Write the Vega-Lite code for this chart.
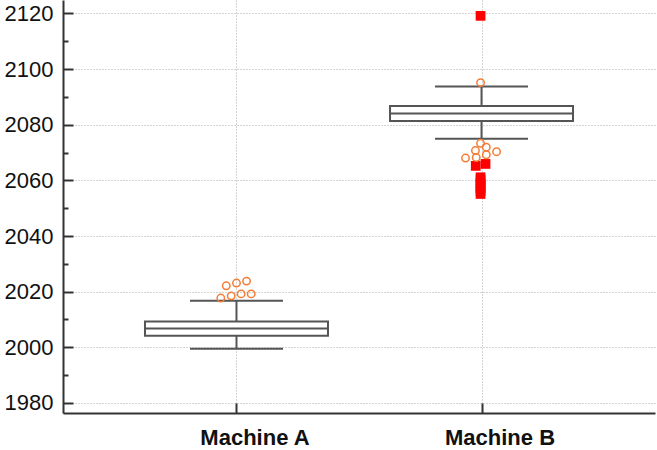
{
  "$schema": "https://vega.github.io/schema/vega-lite/v6.json",
  "width": 592,
  "height": 413,
  "autosize": {"type": "none"},
  "padding": {"left": 63, "top": 0, "right": 2, "bottom": 37},
  "background": "white",
  "config": {"view": {"stroke": null}, "font": "Liberation Sans"},
  "datasets": {
    "boxes": [
      {"machine": "Machine A", "lower": 1999.5, "q1": 2004.2, "median": 2006.8, "q3": 2009.3, "upper": 2016.7},
      {"machine": "Machine B", "lower": 2074.9, "q1": 2081.3, "median": 2084.0, "q3": 2086.7, "upper": 2093.7}
    ],
    "outliers": [
      {"machine": "Machine A", "value": 2022.1, "jitter": -0.64, "kind": "circle"},
      {"machine": "Machine A", "value": 2023.1, "jitter": 0.0, "kind": "circle"},
      {"machine": "Machine A", "value": 2023.8, "jitter": 0.63, "kind": "circle"},
      {"machine": "Machine A", "value": 2017.7, "jitter": -0.98, "kind": "circle"},
      {"machine": "Machine A", "value": 2018.5, "jitter": -0.33, "kind": "circle"},
      {"machine": "Machine A", "value": 2019.2, "jitter": 0.29, "kind": "circle"},
      {"machine": "Machine A", "value": 2019.2, "jitter": 0.92, "kind": "circle"},
      {"machine": "Machine B", "value": 2095.1, "jitter": -0.06, "kind": "circle"},
      {"machine": "Machine B", "value": 2073.3, "jitter": -0.06, "kind": "circle"},
      {"machine": "Machine B", "value": 2070.7, "jitter": -0.38, "kind": "circle"},
      {"machine": "Machine B", "value": 2071.9, "jitter": 0.3, "kind": "circle"},
      {"machine": "Machine B", "value": 2070.3, "jitter": 0.94, "kind": "circle"},
      {"machine": "Machine B", "value": 2068.0, "jitter": -1.0, "kind": "circle"},
      {"machine": "Machine B", "value": 2068.2, "jitter": -0.33, "kind": "circle"},
      {"machine": "Machine B", "value": 2069.2, "jitter": 0.3, "kind": "circle"},
      {"machine": "Machine B", "value": 2065.2, "jitter": -0.36, "kind": "square"},
      {"machine": "Machine B", "value": 2065.9, "jitter": 0.25, "kind": "square"},
      {"machine": "Machine B", "value": 2061.1, "jitter": -0.06, "kind": "square"},
      {"machine": "Machine B", "value": 2060.1, "jitter": -0.06, "kind": "square"},
      {"machine": "Machine B", "value": 2059.0, "jitter": -0.06, "kind": "square"},
      {"machine": "Machine B", "value": 2058.1, "jitter": -0.06, "kind": "square"},
      {"machine": "Machine B", "value": 2057.1, "jitter": -0.06, "kind": "square"},
      {"machine": "Machine B", "value": 2056.1, "jitter": -0.06, "kind": "square"},
      {"machine": "Machine B", "value": 2055.1, "jitter": -0.06, "kind": "square"},
      {"machine": "Machine B", "value": 2119.1, "jitter": -0.06, "kind": "square"}
    ]
  },
  "resolve": {"axis": {"y": "independent"}},
  "layer": [
    {
      "data": {"name": "boxes"},
      "mark": {"type": "rule", "color": "#555555", "strokeWidth": 2},
      "encoding": {
        "x": {"field": "machine", "type": "nominal", "scale": {"type": "point", "padding": 0.708, "domain": ["Machine A", "Machine B"]},
          "axis": {"title": null, "labelAngle": 0, "labelFontSize": 22, "labelFontWeight": "bold", "labelColor": "#111111", "labelOffset": 18,
            "grid": true, "gridColor": "#aaaaaa", "gridDash": [1, 2], "gridWidth": 1,
            "domainColor": "#333333", "domainWidth": 2, "tickColor": "#333333", "tickWidth": 2, "tickSize": -10, "labelPadding": 24}},
        "y": {"field": "q3", "type": "quantitative", "scale": {"domain": [1976.4, 2124.8], "nice": false, "zero": false},
          "axis": {"orient": "left", "title": null, "format": "d", "values": [1980, 2000, 2020, 2040, 2060, 2080, 2100, 2120], "labelFontSize": 22, "labelColor": "#111111",
            "grid": true, "gridColor": "#aaaaaa", "gridDash": [1, 2], "gridWidth": 1,
            "domainColor": "#333333", "domainWidth": 2, "tickColor": "#333333", "tickWidth": 2, "tickSize": -10, "labelPadding": 20}},
        "y2": {"field": "upper"}
      }
    },
    {
      "data": {"name": "boxes"},
      "mark": {"type": "rule", "color": "#555555", "strokeWidth": 2},
      "encoding": {
        "x": {"field": "machine", "type": "nominal"},
        "y": {"field": "lower", "type": "quantitative",
          "axis": {"orient": "left", "title": null, "values": [1990, 2010, 2030, 2050, 2070, 2090, 2110], "labels": false, "grid": false, "domain": false,
            "tickColor": "#333333", "tickWidth": 2, "tickSize": -5}},
        "y2": {"field": "q1"}
      }
    },
    {
      "data": {"name": "boxes"},
      "mark": {"type": "bar", "size": 183, "fill": "white", "stroke": "#555555", "strokeWidth": 2},
      "encoding": {
        "x": {"field": "machine", "type": "nominal"},
        "y": {"field": "q1", "type": "quantitative", "axis": null},
        "y2": {"field": "q3"}
      }
    },
    {
      "data": {"name": "boxes"},
      "mark": {"type": "tick", "size": 183, "thickness": 2, "color": "#555555", "opacity": 1},
      "encoding": {
        "x": {"field": "machine", "type": "nominal"},
        "y": {"field": "median", "type": "quantitative", "axis": null}
      }
    },
    {
      "data": {"name": "boxes"},
      "mark": {"type": "tick", "size": 93, "thickness": 2, "color": "#555555", "opacity": 1},
      "encoding": {
        "x": {"field": "machine", "type": "nominal"},
        "y": {"field": "upper", "type": "quantitative", "axis": null}
      }
    },
    {
      "data": {"name": "boxes"},
      "mark": {"type": "tick", "size": 93, "thickness": 2, "color": "#555555", "opacity": 1},
      "encoding": {
        "x": {"field": "machine", "type": "nominal"},
        "y": {"field": "lower", "type": "quantitative", "axis": null}
      }
    },
    {
      "data": {"name": "outliers"},
      "transform": [{"filter": "datum.kind === 'square'"}],
      "mark": {"type": "square", "filled": true, "color": "#ff0000", "size": 95, "opacity": 1},
      "encoding": {
        "x": {"field": "machine", "type": "nominal"},
        "xOffset": {"field": "jitter", "type": "quantitative", "scale": {"domain": [-1, 1], "range": [-16, 16]}},
        "y": {"field": "value", "type": "quantitative", "axis": null}
      }
    },
    {
      "data": {"name": "outliers"},
      "transform": [{"filter": "datum.kind === 'circle'"}],
      "mark": {"type": "point", "shape": "circle", "filled": false, "color": "#f57c34", "size": 55, "strokeWidth": 1.5, "opacity": 1},
      "encoding": {
        "x": {"field": "machine", "type": "nominal"},
        "xOffset": {"field": "jitter", "type": "quantitative", "scale": {"domain": [-1, 1], "range": [-16, 16]}},
        "y": {"field": "value", "type": "quantitative", "axis": null}
      }
    }
  ]
}
